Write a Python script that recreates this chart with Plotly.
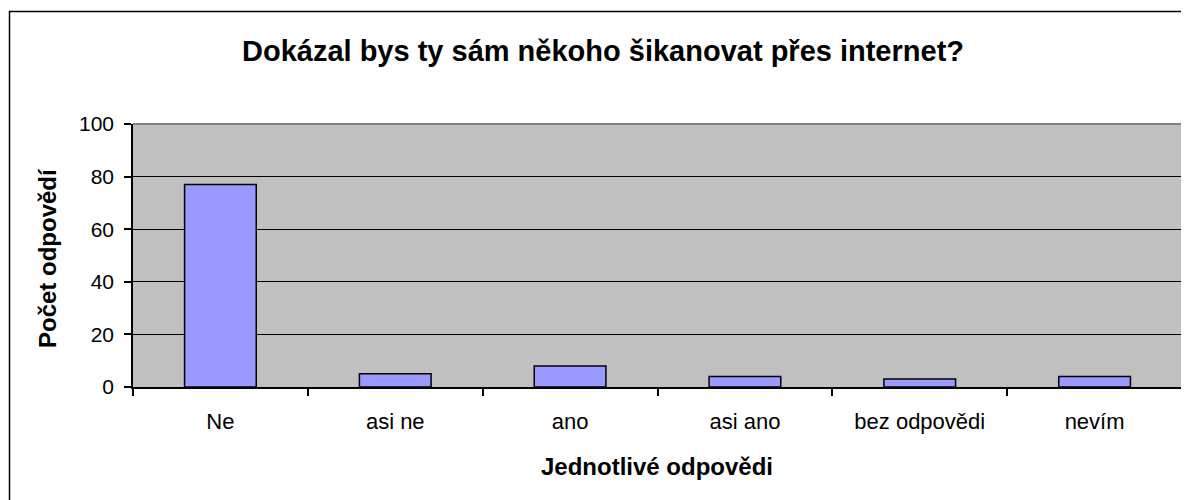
import plotly.graph_objects as go

# Data
odpovedi = ["Ne", "asi ne", "ano", "asi ano", "bez odpovědi", "nevím"]
pocty = [77, 5, 8, 4, 3, 4]
osa_y = [0, 20, 40, 60, 80, 100]

nadpis = "Dokázal bys ty sám někoho šikanovat přes internet?"
popis_x = "Jednotlivé odpovědi"
popis_y = "Počet odpovědí"

font = "Liberation Sans, Arial, sans-serif"

fig = go.Figure(go.Bar(
    x=odpovedi, y=pocty,
    marker=dict(color="#9999FF", line=dict(color="black", width=1.5)),
))

# stranica ima marginu od 8px, pa je figura za toliko manja
OFF = 8
W, H = 1189 - OFF, 500 - OFF
L, R, T, B = 133 - OFF, 7, 124 - OFF, 113
pw = W - L - R
ph = H - T - B


def px_x(x):
    return (x - OFF - L) / pw


def px_y(y):
    return (H - B - (y - OFF)) / ph


fig.update_layout(
    width=W, height=H,
    margin=dict(l=L, r=R, t=T, b=B),
    paper_bgcolor="white",
    plot_bgcolor="#C0C0C0",
    bargap=0.59,
    showlegend=False,
    font=dict(family=font, color="black", size=21),
    title=dict(text="<b>" + nadpis + "</b>", x=(603 - OFF) / W, xref="container", xanchor="center",
               y=1 - (51 - OFF) / H, yref="container", yanchor="middle",
               font=dict(size=29, family=font, color="black")),
)

fig.update_xaxes(
    type="category", showgrid=False, showline=True, linecolor="black", linewidth=1.5,
    ticks="outside", tickson="boundaries", ticklen=7, tickcolor="black", tickwidth=1.5,
    tickfont=dict(size=22), ticklabelstandoff=14,
)
fig.update_yaxes(
    range=[0, 100], tickvals=osa_y, showgrid=True, gridcolor="black", gridwidth=1.3,
    zeroline=False, showline=True, linecolor="black", linewidth=1.5,
    ticks="outside", ticklen=7, tickcolor="black", tickwidth=1.5,
    tickfont=dict(size=21), ticklabelstandoff=6,
)

# sivi gornji i desni rub
fig.add_shape(type="line", xref="paper", yref="paper", x0=0, x1=1, y0=1, y1=1,
              line=dict(color="#808080", width=2), layer="above")
fig.add_shape(type="line", xref="paper", yref="paper", x0=1, x1=1, y0=0, y1=1,
              line=dict(color="#808080", width=2), layer="above")

# okvir oko cijelog grafa
fig.add_shape(type="rect", xref="paper", yref="paper",
              x0=px_x(9.5), x1=px_x(1189 + 20),
              y0=px_y(500 + 20), y1=px_y(11.5),
              line=dict(color="black", width=1.5), layer="above")

fig.add_annotation(text="<b>" + popis_x + "</b>", xref="paper", yref="paper",
                   x=px_x(657), y=px_y(466), showarrow=False,
                   xanchor="center", yanchor="middle", font=dict(size=24))
fig.add_annotation(text="<b>" + popis_y + "</b>", xref="paper", yref="paper",
                   x=px_x(47), y=px_y(258), showarrow=False, textangle=-90,
                   xanchor="center", yanchor="middle", font=dict(size=24))

fig.write_html("out.html")
